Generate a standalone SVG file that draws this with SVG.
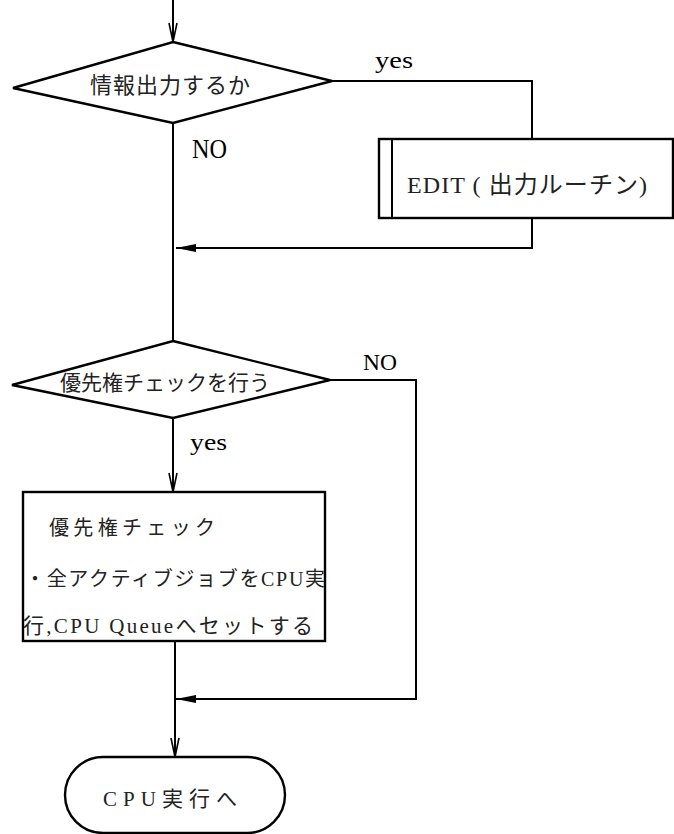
<svg xmlns="http://www.w3.org/2000/svg" width="674" height="834" viewBox="0 0 674 834">
<defs>
<marker id="openV" viewBox="0 0 20 10" refX="20" refY="5" markerWidth="20" markerHeight="10" markerUnits="userSpaceOnUse" orient="auto">
<path d="M1,1 L20,5 L1,9" fill="none" stroke="#000" stroke-width="1.6"/>
</marker>
<marker id="fillL" viewBox="0 0 20 8" refX="0" refY="4" markerWidth="20" markerHeight="8" markerUnits="userSpaceOnUse" orient="0">
<path d="M0,4 L20,0 L20,8 Z" fill="#000"/>
</marker>
<style>
.ln{fill:none;stroke:#000;stroke-width:2}
.shp{fill:#fff;stroke:#000;stroke-width:2.4}
.lat{font-family:"Liberation Serif","Noto Sans CJK JP",serif;fill:#000}
.jp{font-family:"Liberation Serif","Noto Sans CJK JP",serif;fill:#222}
</style>
</defs>
<rect width="674" height="834" fill="#fff"/>
<g id="connectors">
<line class="ln" x1="173" y1="0" x2="173" y2="42" marker-end="url(#openV)"/>
<polyline class="ln" points="332,81 532,81 532,139"/>
<polyline class="ln" points="532,218 532,248 176,248" marker-end="url(#fillL)"/>
<line class="ln" x1="173" y1="123" x2="173" y2="341"/>
<polyline class="ln" points="330,380 416,380 416,699 176,699" marker-end="url(#fillL)"/>
<line class="ln" x1="173" y1="418" x2="173" y2="492" marker-end="url(#openV)"/>
<line class="ln" x1="175" y1="641" x2="175" y2="757" marker-end="url(#openV)"/>
<text class="lat" x="375" y="68" font-size="24" textLength="38" lengthAdjust="spacingAndGlyphs">yes</text>
<text class="lat" x="192" y="158" font-size="27" textLength="35" lengthAdjust="spacingAndGlyphs">NO</text>
<text class="lat" x="363" y="370" font-size="24" textLength="34" lengthAdjust="spacingAndGlyphs">NO</text>
<text class="lat" x="190" y="450" font-size="24" textLength="37" lengthAdjust="spacingAndGlyphs">yes</text>
</g>
<g id="decision1">
<polygon class="shp" points="173,42 332,81 173,123 13,88"/>
<text class="jp" x="90" y="93" font-size="22" textLength="160" lengthAdjust="spacing">情報出力するか</text>
</g>
<g id="edit">
<rect class="shp" x="379" y="139" width="294" height="79"/>
<line class="ln" x1="392" y1="139" x2="392" y2="218"/>
<text class="jp" x="407" y="193" font-size="24" textLength="240" lengthAdjust="spacing">EDIT ( 出力ルーチン)</text>
</g>
<g id="decision2">
<polygon class="shp" points="173,341 330,380 173,418 12,385"/>
<text class="jp" x="60" y="390" font-size="21" textLength="210" lengthAdjust="spacing">優先権チェックを行う</text>
</g>
<g id="priority">
<rect class="shp" x="23" y="492" width="302" height="149"/>
<text class="jp" x="49" y="535" font-size="20" textLength="166" lengthAdjust="spacing">優先権チェック</text>
<text class="jp" x="25" y="586" font-size="20" textLength="300" lengthAdjust="spacing">・全アクティブジョブをCPU実</text>
<text class="jp" x="23" y="633" font-size="21" textLength="290" lengthAdjust="spacing">行,CPU Queueへセットする</text>
</g>
<g id="terminal">
<rect class="shp" x="65" y="757" width="220" height="76" rx="38" ry="38"/>
<text class="jp" x="103" y="806" font-size="21" textLength="134" lengthAdjust="spacing">CPU実行へ</text>
</g>
</svg>
